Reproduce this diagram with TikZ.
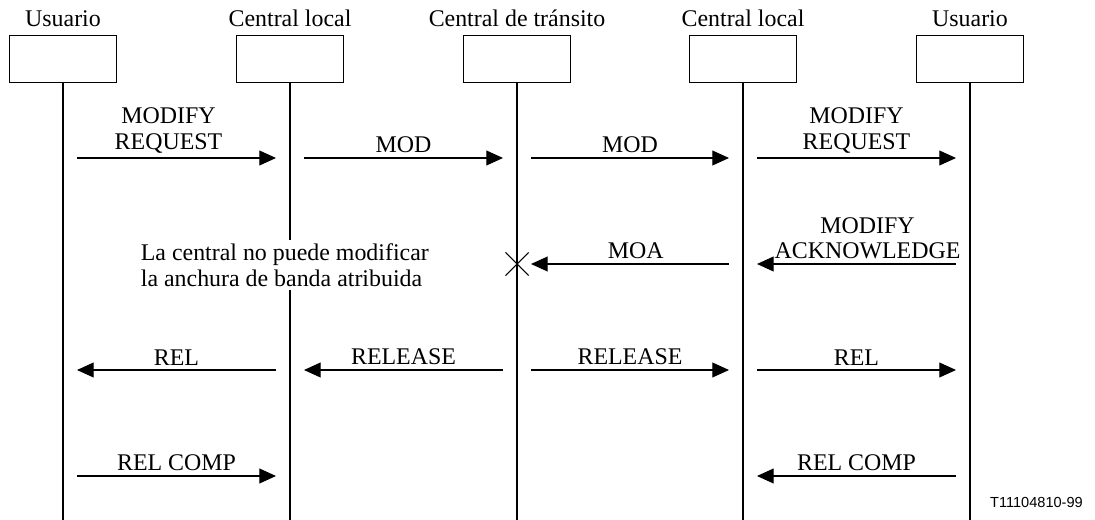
\documentclass[tikz,border=0pt]{standalone}
\usepackage{fontspec}
\setmainfont{Liberation Serif}
\newfontfamily\etiqfont{Liberation Sans}
\usepackage{tikz}
\usetikzlibrary{
  arrows.meta,
  positioning,
  calc,
  shapes.misc
}

\begin{document}
\begin{tikzpicture}[
      x=0.02cm, y=-0.02cm,
      font=\fontsize{13.6}{14.5}\selectfont,
      caixa/.style={draw, line width=0.5pt, minimum width=2.14cm, minimum height=0.94cm, inner sep=0pt},
      vida/.style={line width=0.75pt},
      msg/.style={-{Triangle[length=9.5pt,width=8.5pt]}, line width=0.6pt,
                  shorten <=0.28cm, shorten >=0.28cm},
      rotulo/.style={midway, above, align=center, inner sep=2.5pt}
  ]
      \useasboundingbox (0,0) rectangle (1095,520);

      % --- ENTIDADES ---
      \node[caixa] (e1) at (63,58.5)  {};
      \node[caixa] (e2) at (290,58.5) {};
      \node[caixa] (e3) at (517,58.5) {};
      \node[caixa] (e4) at (743,58.5) {};
      \node[caixa] (e5) at (970,58.5) {};
      \node[above=3.5pt of e1, inner sep=1pt] (t1) {Usuario};
      \node[above=3.5pt of e2, inner sep=1pt] (t2) {Central local};
      \node[above=3.5pt of e3, inner sep=1pt] (t3) {Central de tránsito};
      \node[above=3.5pt of e4, inner sep=1pt] (t4) {Central local};
      \node[above=3.5pt of e5, inner sep=1pt] (t5) {Usuario};

      % --- LINHAS DE VIDA ---
      \coordinate (fim) at (0,520);
      \draw[vida] (e1.south) -- (e1 |- fim);
      \draw[vida] (e2.south) -- (e2 |- fim);
      \draw[vida] (e3.south) -- (e3 |- fim);
      \draw[vida] (e4.south) -- (e4 |- fim);
      \draw[vida] (e5.south) -- (e5 |- fim);

      % --- NIVEIS DAS MENSAGENS ---
      \coordinate (r1) at (0,158);
      \coordinate (r2) at (0,264);
      \coordinate (r3) at (0,370);
      \coordinate (r4) at (0,476);

      % --- MODIFICACAO ---
      \draw[msg] (e1 |- r1) -- (e2 |- r1) node[rotulo, xshift=-0.16cm] {MODIFY\\REQUEST};
      \draw[msg] (e2 |- r1) -- (e3 |- r1) node[rotulo] {MOD};
      \draw[msg] (e3 |- r1) -- (e4 |- r1) node[rotulo] {MOD};
      \draw[msg] (e4 |- r1) -- (e5 |- r1) node[rotulo] {MODIFY\\REQUEST};

      \draw[msg] (e5 |- r2) -- (e4 |- r2) node[rotulo, xshift=0.22cm] {MODIFY\\ACKNOWLEDGE};
      \node[draw, cross out, line width=0.6pt, minimum size=0.44cm, inner sep=0pt] (x) at (e3 |- r2) {};
      \draw[msg, shorten >=0.05cm] (e4 |- r2) -- (x.east) node[rotulo] {MOA};
      \node[anchor=west, align=left, fill=white, inner sep=2pt] (nota) at (137,265) {La central no puede modificar\\la anchura de banda atribuida};

      % --- LIBERACAO ---
      \draw[msg] (e2 |- r3) -- (e1 |- r3) node[rotulo] {REL};
      \draw[msg] (e3 |- r3) -- (e2 |- r3) node[rotulo] {RELEASE};
      \draw[msg] (e3 |- r3) -- (e4 |- r3) node[rotulo] {RELEASE};
      \draw[msg] (e4 |- r3) -- (e5 |- r3) node[rotulo] {REL};

      \draw[msg] (e1 |- r4) -- (e2 |- r4) node[rotulo] {REL COMP};
      \draw[msg] (e5 |- r4) -- (e4 |- r4) node[rotulo] {REL COMP};

      \node[anchor=east, font=\etiqfont\fontsize{8.3}{9}\selectfont] (ref) at (1089,502) {T11104810-99};
  \end{tikzpicture}
\end{document}
